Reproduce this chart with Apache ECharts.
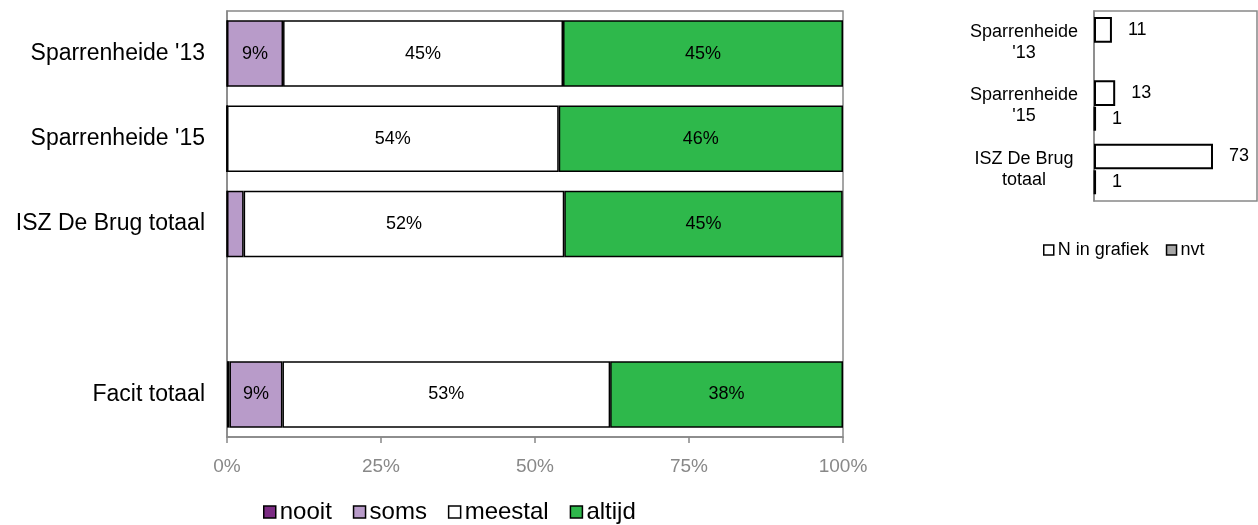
<!DOCTYPE html>
<html>
<head>
<meta charset="utf-8">
<script src="https://cdn.jsdelivr.net/npm/echarts@6/dist/echarts.min.js"></script>
<style>
html,body{margin:0;padding:0;background:#fff;}
#chart{width:1258px;height:525px;}
</style>
</head>
<body>
<div id="chart"></div>
<script>
// Left chart
const categories = ["Sparrenheide '13", "Sparrenheide '15", "ISZ De Brug totaal", "", "Facit totaal"];
const nooit   = [0, 0, 0, null, 0.4];
const soms    = [9.1, 0, 2.7, null, 8.6];
const meestal = [45.45, 53.85, 52.05, null, 53.2];
const altijd  = [45.45, 46.15, 45.2, null, 37.8];
const xTicks  = [0, 25, 50, 75, 100];

// Right chart
const nCategories = ["Sparrenheide\n'13", "Sparrenheide\n'15", "ISZ De Brug\ntotaal"];
const nInGrafiek = [11, 13, 73];
const nvt = [null, 1, 1];

const FONT = 'Liberation Sans, Arial, sans-serif';
const chart = echarts.init(document.getElementById('chart'));

function pctSeries(name, data, color) {
  return {
    name: name, type: 'bar', stack: 'pct', data: data,
    xAxisIndex: 0, yAxisIndex: 0,
    barCategoryGap: '22%',
    itemStyle: { color: color, borderColor: '#000', borderWidth: 1.5 },
    label: {
      show: true, position: 'inside', color: '#000', fontSize: 18, fontFamily: FONT,
      formatter: p => (p.value != null && p.value >= 5) ? Math.round(p.value) + '%' : ''
    },
    emphasis: { disabled: true }
  };
}

function nSeries(name, data, color, bw) {
  return {
    name: name, type: 'bar', data: data,
    xAxisIndex: 1, yAxisIndex: 1,
    barGap: '0%', barCategoryGap: '19%',
    itemStyle: { color: color, borderColor: '#000', borderWidth: bw },
    label: { show: true, position: 'right', distance: 16, color: '#000', fontSize: 18, fontFamily: FONT },
    emphasis: { disabled: true }
  };
}

chart.setOption({
  animation: false,
  textStyle: { fontFamily: FONT },
  legend: [
    {
      data: ['nooit', 'soms', 'meestal', 'altijd'],
      left: 263, top: 500, padding: 0,
      itemWidth: 12, itemHeight: 12, itemGap: 21,
      icon: 'rect',
      textStyle: { fontSize: 24, color: '#000', fontFamily: FONT, padding: [0, 0, 0, -1] },
      itemStyle: { borderColor: '#000', borderWidth: 1.5 }
    },
    {
      data: ['N in grafiek', 'nvt'],
      left: 1043, top: 241, padding: 0,
      itemWidth: 10, itemHeight: 10, itemGap: 17,
      icon: 'rect',
      textStyle: { fontSize: 18, color: '#000', fontFamily: FONT, padding: [0, 0, 0, -1] },
      itemStyle: { borderColor: '#000', borderWidth: 1.5 }
    }
  ],
  grid: [
    { left: 227, top: 11, width: 616, height: 426, show: true, borderColor: '#888', borderWidth: 1.5, containLabel: false },
    { left: 1094, top: 11, width: 163, height: 190, show: true, borderColor: '#888', borderWidth: 1.5, containLabel: false }
  ],
  xAxis: [
    {
      gridIndex: 0, type: 'value', min: 0, max: 100, interval: 25,
      axisLine: { show: true, lineStyle: { color: '#888', width: 1.5 } },
      axisTick: { show: true, length: 6, lineStyle: { color: '#888', width: 1.5 } },
      splitLine: { show: false },
      axisLabel: { color: '#888', fontSize: 19, fontFamily: FONT, margin: 20, formatter: '{value}%' }
    },
    {
      gridIndex: 1, type: 'value', min: 0, max: 100,
      axisLine: { show: false }, axisTick: { show: false },
      splitLine: { show: false }, axisLabel: { show: false }
    }
  ],
  yAxis: [
    {
      gridIndex: 0, type: 'category', data: categories, inverse: true,
      axisLine: { show: true, lineStyle: { color: '#888', width: 1.5 } },
      axisTick: { show: false },
      axisLabel: { color: '#000', fontSize: 23, fontFamily: FONT, margin: 22 }
    },
    {
      gridIndex: 1, type: 'category', data: nCategories, inverse: true,
      axisLine: { show: true, lineStyle: { color: '#888', width: 1.5 } },
      axisTick: { show: false },
      axisLabel: { color: '#000', fontSize: 18, fontFamily: FONT, margin: 70, align: 'center', lineHeight: 21, padding: [7, 0, 0, 0] }
    }
  ],
  series: [
    pctSeries('nooit', nooit, '#7B2C83'),
    pctSeries('soms', soms, '#B89BC9'),
    pctSeries('meestal', meestal, '#FFFFFF'),
    pctSeries('altijd', altijd, '#2EB84B'),
    nSeries('N in grafiek', nInGrafiek, '#FFFFFF', 2),
    nSeries('nvt', nvt, '#A6A6A6', 2.5)
  ]
});
</script>
</body>
</html>
